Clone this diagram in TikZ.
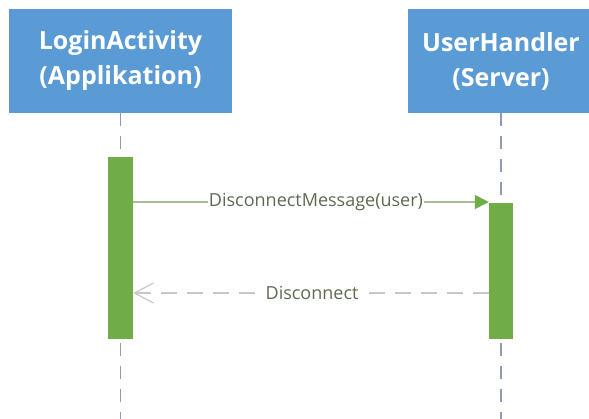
\documentclass[tikz,border=0pt]{standalone}
\usepackage{fontspec}
\setmainfont{Open Sans}
\usetikzlibrary{arrows.meta}
\definecolor{boxblue}{HTML}{5B9BD5}
\definecolor{barGreen}{HTML}{70AD47}
\definecolor{lifeGray}{HTML}{8E9CB3}
\definecolor{msgLine}{HTML}{A8BC96}
\definecolor{retLine}{HTML}{C6C8C4}
\definecolor{msgText}{HTML}{5E6A50}
\tikzset{
  x=1pt, y=-1pt,
  actor/.style={rectangle, fill=boxblue, text=white, font=\fontsize{25}{35}\selectfont\bfseries,
    align=center, minimum height=104pt, inner sep=0pt},
  activation/.style={rectangle, fill=barGreen, inner sep=0pt, minimum width=25pt},
  lifeline/.style={draw=lifeGray, line width=1.4pt, dash pattern=on 13pt off 10pt},
  callmsg/.style={draw=msgLine, line width=1.5pt, -{Triangle[length=14pt,width=14pt,fill=barGreen,color=barGreen]}},
  replymsg/.style={draw=retLine, line width=1.5pt, dash pattern=on 16pt off 10pt,
    -{Straight Barb[length=19pt,width=20pt,line width=1.2pt]}},
  msglabel/.style={fill=white, text=msgText, font=\fontsize{18}{20}\selectfont, inner sep=1pt}
}
\begin{document}
\begin{tikzpicture}
\useasboundingbox (0,0) rectangle (589,419);
\clip (0,0) rectangle (589,419);
% participants
\node[actor, minimum width=223pt] (login) at (120.5,61) {LoginActivity\\(Applikation)};
\node[actor, minimum width=186pt] (handler) at (501,61) {UserHandler\\(Server)};
% lifeline ends
\coordinate (loginEnd) at (120.5,419);
\coordinate (handlerEnd) at (501,419);
\draw[lifeline] (login.south) -- (loginEnd);
\draw[lifeline] (handler.south) -- (handlerEnd);
% activation bars
\node[activation, minimum height=182pt] (loginBar) at (120.5,248) {};
\node[activation, minimum height=136pt, minimum width=24pt] (handlerBar) at (501,271) {};
% messages
\coordinate (callFrom) at (loginBar.east |- 0,202);
\coordinate (callTo) at (handlerBar.west |- 0,202);
\draw[callmsg] (callFrom) -- node[msglabel, pos=0.514] (callLabel) {DisconnectMessage(user)} (callTo);
\coordinate (replyFrom) at (handlerBar.west |- 0,293);
\coordinate (replyTo) at (loginBar.east |- 0,293);
\draw[replymsg] (replyFrom) -- node[msglabel, pos=0.497] (replyLabel) {Disconnect} (replyTo);
\end{tikzpicture}
\end{document}
